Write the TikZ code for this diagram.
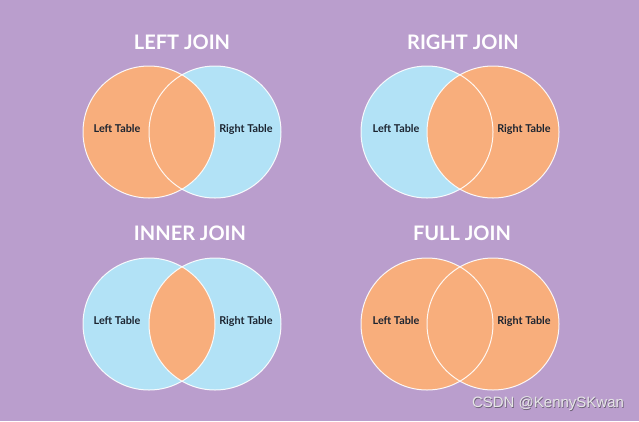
\documentclass[tikz,border=0pt]{standalone}
\usepackage{fontspec}
\setmainfont{Lato}
\newfontfamily\wmfont{Liberation Sans}
\definecolor{bgpurple}{HTML}{BA9ECD}
\definecolor{orng}{HTML}{F8AE7C}
\definecolor{skyb}{HTML}{B2E2F6}
\definecolor{lbl}{HTML}{1C2430}
\definecolor{wmgray}{HTML}{E6E6E6}
\definecolor{wmshadow}{HTML}{6E6478}
\tikzset{
  title/.style={text=white, font=\fontsize{20}{22}\selectfont\bfseries, inner sep=0pt},
  lab/.style={text=lbl, font=\fontsize{10.8}{12}\selectfont\bfseries, inner sep=0pt},
  ring/.style={draw=white, line width=1pt, draw opacity=0.9},
}
\begin{document}
\begin{tikzpicture}[x=1pt,y=-1pt]
\useasboundingbox (0,0) rectangle (639,421);
\fill[bgpurple] (0,0) rectangle (639,421);
\def\R{66}
% LEFT JOIN
\fill[skyb] (215,132) circle (\R);
\fill[orng] (149,132) circle (\R);
\draw[ring] (149,132) circle (\R);
\draw[ring] (215,132) circle (\R);
\node[title] (t1) at (182,42) {LEFT JOIN};
\node[lab] (l1) at (117,129) {Left Table};
\node[lab] (r1) at (246,129) {Right Table};
% RIGHT JOIN
\fill[skyb] (427,132) circle (\R);
\fill[orng] (493,132) circle (\R);
\draw[ring] (427,132) circle (\R);
\draw[ring] (493,132) circle (\R);
\node[title] (t2) at (463,42) {RIGHT JOIN};
\node[lab] (l2) at (396,129) {Left Table};
\node[lab] (r2) at (524,129) {Right Table};
% INNER JOIN
\fill[skyb] (149,324) circle (\R);
\fill[skyb] (215,324) circle (\R);
\begin{scope}
\clip (149,324) circle (\R);
\fill[orng] (215,324) circle (\R);
\end{scope}
\draw[ring] (149,324) circle (\R);
\draw[ring] (215,324) circle (\R);
\node[title] (t3) at (190,233) {INNER JOIN};
\node[lab] (l3) at (117,321) {Left Table};
\node[lab] (r3) at (246,321) {Right Table};
% FULL JOIN
\fill[orng] (427,324) circle (\R);
\fill[orng] (493,324) circle (\R);
\draw[ring] (427,324) circle (\R);
\draw[ring] (493,324) circle (\R);
\node[title] (t4) at (462,233) {FULL JOIN};
\node[lab] (l4) at (396,321) {Left Table};
\node[lab] (r4) at (524,321) {Right Table};
% watermark
\node[text=wmshadow, font=\wmfont\fontsize{15}{17}\selectfont, inner sep=0pt] (wms) at (548.8,404.8) {CSDN @KennySKwan};
\node[text=wmgray, font=\wmfont\fontsize{15}{17}\selectfont, inner sep=0pt] (wm) at (548,404) {CSDN @KennySKwan};
\end{tikzpicture}
\end{document}
